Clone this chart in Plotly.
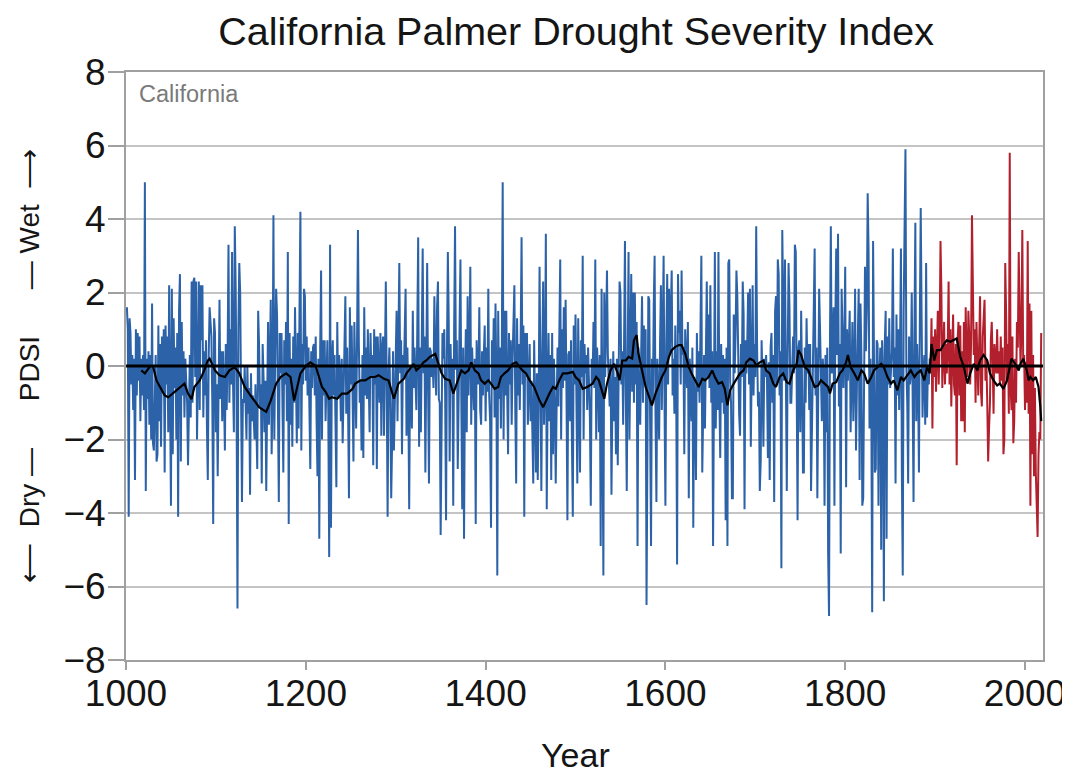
import plotly.graph_objects as go

# ---- Reconstructed PDSI values, one list per stretch of years ----
pdsi_1001 = [1.6, 1.0, -4.1, 1.3, 0.9, -0.5, 0.3, -1.2, 0.2, -3.1,
             1.0, -0.8, 0.9, -0.4, 0.8, -1.5, 0.2, -0.8, 0.3, -1.2,
             5.0, -3.4, 0.2, -0.9, 0.4, -1.6, 0.3, -2.0, 1.7, -2.1,
             -2.3, -0.1, 0.3, -2.6, -2.4, 1.1, -1.5, 0.6, -2.2, 0.8,
             -0.7, 1.0, -2.9, 1.1, -0.5, 0.8, -1.8, 2.2, -1.0, -3.8,
             2.1, -2.4, 1.3, -0.6, 0.5, -2.0, 0.9, -4.1, 1.5, 2.5,
             -2.6, 1.2, -0.8, 0.4, -1.4, 0.2, -0.4, -1.0, -2.7, -0.9,
             0.3, -1.4, 2.3, -1.0, 2.3, 2.4, -0.3, 2.3, -2.0, -0.2,
             2.3, -1.2, 2.2, 0.7, 2.2, -1.4, 0.4, -0.8, 0.7, -1.6,
             -3.1, 0.3, 1.6]
pdsi_1094 = [1.2, 0.8, -1.0, -4.3, 1.3, 0.9, -1.8, -0.5, -3.0, 0.4,
             1.8, -0.9, 0.4, -1.5, 0.4, -0.8, -2.3, 0.6, -1.2, 0.3,
             3.3, -1.0, 1.0, -0.5, 3.1, -0.4, -1.8, 3.8, 2.2, -1.0,
             -6.6, 1.0, 2.8, 2.0, -1.5, -3.7, -0.9, -1.0, 0.0, -1.2,
             -2.0, 0.0, -1.3, -0.6, -3.5, -0.2, -1.5, -0.8, -1.5, -2.0,
             -0.5, -2.2, -2.8, 1.5, 0.6, -1.1, -0.5, -3.2, 0.6, -0.3,
             -1.8, -0.4, -3.4, -1.0, 1.2, -1.6, 0.2, 1.8, -2.4, -0.8,
             4.1, -2.0, 0.5, 2.1, 1.4, -1.2, -3.7, 0.9, -0.2, 0.9,
             -1.0, -2.9, 0.7, -0.5, 1.2, -1.5, 3.1, -4.3, 0.9, -1.6,
             0.2, -2.2, 0.8, -1.0]
pdsi_1188 = [1.6, -1.0, -2.1, 0.9, -1.7, 1.6, 4.2, -2.3, 0.6, -0.5,
             2.1, 1.9, -0.4, 0.8, -0.8, 0.5, -1.2, -2.8, 0.4, -0.6,
             0.5, 0.6, -0.8, 0.8, -1.5, -3.0, 0.2, -4.7, 0.5, 2.6,
             -2.0, 0.7, -0.8, 0.7, -1.5, 0.3, 0.7, -1.2, -5.2, 3.3,
             -4.4, 0.2, 0.7, -0.8, 0.3, -1.5, -3.3, 1.2, -0.9, 0.3,
             -0.2, -1.5, 0.2, -2.1, -0.6, -0.2, 1.9, -1.3, 0.5, -1.1,
             -3.6, 1.6, -0.5, 1.1, -1.1, -2.6, 1.2, -0.8, -1.7, 0.7,
             3.7, 0.6, -1.0, -0.4, -2.3, 0.3, -2.5, 1.6, -0.8, 0.5,
             -0.9, 1.0, -0.2, -1.8, 0.9, -0.3, 0.3, -2.7, 1.0, -0.5,
             0.8, -2.8, 0.8, -0.5]
pdsi_1282 = [-1.0, 0.9, -1.9, 0.5, 0.8, -1.9, 0.3, 2.3, -0.6, -4.1,
             -0.2, 0.5, -1.0, -3.6, -2.1, 0.4, -2.3, -0.8, 0.3, 1.5,
             -1.5, 0.8, 2.8, -0.2, 0.7, -2.4, 0.3, -0.3, 0.6, 2.1,
             -1.9, 0.5, -0.8, -3.9, 0.0, -0.2, -1.7, 1.5, -0.6, 0.5,
             -0.4, -1.2, 1.0, 3.5, -2.2, 0.5, -1.8, 0.6, 3.2, -0.2,
             0.8, -2.9, 0.5, 2.8, -0.5, -3.2, 0.5, 0.4, -0.3, 0.2,
             -0.6, 1.9, 0.2, -0.8, 1.6, 2.3, -0.9, -1.0, -4.6, -2.0,
             0.9, 0.2, 1.0, -0.8, -4.2, 0.4, 3.1, 1.2, -2.6, 0.6,
             -0.5, 0.2, -3.8, 1.0, 3.8, -0.1, 0.7, -2.8, -0.3, 0.8,
             2.9, -1.0, -3.9, 0.5]
pdsi_1376 = [-4.7, -0.5, 1.0, -1.8, 1.9, -0.8, 0.4, 2.7, -1.6, 0.5,
             -0.9, -1.2, 0.2, -4.3, 0.7, -0.4, -0.5, 1.6, -1.2, -1.6,
             0.4, -0.8, 0.3, 1.1, -1.5, 0.5, -0.7, 2.1, -0.8, -1.5,
             -4.4, 0.7, -0.6, 1.3, -1.4, 1.7, -0.5, -5.7, 1.5, -0.9,
             0.5, -1.7, 0.3, 5.0, -2.0, 1.5, -0.8, 1.5, -0.7, -2.4,
             0.9, -0.5, 0.7, -1.6, 0.2, 1.0, 2.2, -1.2, -3.2, 1.3,
             -0.8, 0.6, -1.2, 0.8, 3.5, -0.5, 1.1, -4.1, 0.9, -0.3,
             0.9, -1.6, -0.8, 0.6, -1.5, -0.4, -1.8, -3.2, 0.7, -0.6,
             -2.9, -0.2, -3.1, -1.0, 2.7, -0.2, -3.4, 0.2, 2.3, -1.6,
             -0.4, 3.6, -3.9, -0.8]
pdsi_1470 = [0.9, -1.5, 0.3, -3.1, 0.9, -2.4, 0.2, -1.0, -3.2, -1.1,
             0.5, -1.1, 0.4, 2.9, -2.0, 1.0, -0.6, 1.6, -0.4, 1.8,
             -0.9, -4.2, 0.3, 0.4, -1.5, 0.7, -2.0, -4.1, 1.1, -0.5,
             1.4, -1.2, -3.2, 1.3, -0.7, -2.9, 0.7, -0.3, 3.0, -2.0,
             0.6, -0.2, 0.3, -1.2, 0.5, -0.8, -1.4, -3.8, 0.2, -0.5,
             1.2, -0.6, 2.9, -2.0, 0.5, -0.2, -1.8, 0.3, -4.9, 2.1,
             -1.5, -5.7, 2.0, -0.3, 1.0, 2.6, 0.3, -0.9, -1.1, 0.2,
             -3.5, -1.0, 0.4, -1.5, -0.3, -2.4, 0.2, -2.7, 0.5, 2.3,
             2.0, -0.5, 0.4, -1.6, 0.6, 3.4, -0.8, -3.4, 0.1, 3.1,
             -2.0, 0.2, 2.5, -0.7]
pdsi_1564 = [2.0, -1.0, 2.0, -0.5, 1.2, -4.9, 0.5, -0.8, -1.6, 0.3,
             1.9, -1.0, 1.1, -0.4, 1.0, -6.5, 0.3, 1.9, 1.8, -1.0,
             -4.9, 0.2, -1.0, 1.6, 3.0, -1.4, -3.7, 0.2, -0.9, -2.0,
             0.6, 2.2, -1.2, 0.5, 3.0, -1.0, -3.8, 0.6, 2.5, -0.5,
             2.1, 0.3, 1.8, 2.6, -0.8, 0.2, -1.3, 1.1, -0.6, -5.4,
             2.5, 0.9, 1.5, -0.5, 2.6, 0.3, 0.5, -2.4, 1.0, 0.1,
             -0.6, 1.2, -3.6, 0.2, -0.3, -1.5, 0.5, -4.4, -0.3, -1.1,
             -3.1, 0.9, -0.7, 0.4, -1.0, 1.0, 3.0, -2.9, -0.4, 0.3,
             -1.7, 0.5, 2.3, -0.3, 1.4, -0.6, 2.2, -1.0, 0.4, -4.9,
             0.5, 3.1, -1.7, 0.4]
pdsi_1658 = [-1.2, 3.1, -0.8, -2.5, 0.6, -1.0, 0.3, -1.3, 0.2, -4.2,
             0.5, -4.9, 2.8, 2.9, -0.4, -1.0, -3.6, -3.6, 1.4, -0.2,
             0.8, 2.6, 1.9, -0.5, -1.3, -1.9, 0.6, -0.3, 2.3, 1.4,
             -3.9, 0.7, -0.2, 0.6, 2.0, -0.5, 2.1, -2.2, 0.5, 2.2,
             -0.8, 0.6, -0.3, 3.8, 0.5, -1.1, -0.7, -3.4, -2.6, 0.7,
             -0.5, -2.2, 0.2, -0.3, 0.3, -0.4, -2.5, 0.1, -3.1, 0.5,
             0.9, -1.0, 0.3, -3.7, 1.5, 1.9, -0.5, 2.9, 2.5, -0.8,
             0.4, -5.5, 3.7, 2.1, -0.4, 2.9, 0.5, -3.4, 0.3, 2.8,
             1.6, -1.0, -1.0, -0.2, 0.8, -0.2, 3.3, 3.1, -0.8, -4.2,
             0.5, 0.7, -1.8, 1.5]
pdsi_1752 = [-0.4, -2.9, -2.9, 0.5, -1.0, 1.3, -0.2, 0.6, -1.2, 0.6,
             -3.4, -1.5, 0.3, 1.0, 3.2, -0.8, 0.5, -3.6, 0.8, 2.1,
             1.0, -0.5, -1.5, 0.2, -0.2, -3.8, 0.3, -1.8, 0.5, -5.1,
             -6.8, 0.5, 3.8, -0.2, 0.4, 1.6, -3.8, 1.2, 3.2, 0.3,
             3.6, -1.1, 0.6, -5.1, 2.1, 0.9, -0.6, 0.8, 2.7, -3.3,
             1.0, -0.4, 0.7, 1.5, -1.8, 0.5, 1.2, -1.5, -0.3, 2.1,
             -2.3, -0.6, 0.9, 2.1, -3.1, 1.7, 0.3, -3.8, -3.6, 0.6,
             2.7, 0.4, 1.5, 4.7, 3.1, -1.7, 0.2, -1.0, -6.7, 3.4,
             -0.8, -2.9, -2.8, 0.7, 0.6, -3.8, -0.3, 0.5, -5.0, 0.7,
             -0.2, -6.4, 0.6, 1.5]
pdsi_1846 = [-4.7, 0.8, -0.5, 1.3, -0.6, -0.2, 0.4, 3.2, -0.3, 0.5,
             -3.2, 1.4, -0.8, 1.0, -1.2, 0.5, 3.2, -2.9, -5.7, 1.5,
             3.4, 5.9, 0.0, -1.0, -3.2, 0.8, -0.5, -0.2, 2.0, -0.8,
             -3.7, 1.0, 3.9, -1.5, 0.6, -0.4, -2.9, 1.2, 4.3, 1.3,
             -1.4, -0.2, 0.3, -1.6, 2.8, -1.4, 0.0, -0.5, 0.2, -0.1]

# Instrumental-era values (red), starting 1895
pdsi_1895 = [-0.1, 1.3, -1.7, 0.8, -0.3, 1.0, -0.7, 0.5, 1.5, -0.5,
             0.8, 3.4, 2.0, -0.6, 0.4, 1.2, -0.5, 0.6, -0.2, 0.5,
             2.3, -0.5, 1.0, -1.1, 0.3, 1.4, -0.5, -0.8, 0.6, -2.7,
             0.7, 1.2, -0.8, 1.1, -1.5, 0.4, -1.5, 1.2, -1.8, 1.6,
             0.2, -0.3, 1.5, 0.8, -0.5, 0.6, 4.1, 1.1, 0.3, 1.0,
             -1.0, 1.2, -0.2, -0.8, 0.6, 1.9, -0.7, -1.1, 0.8, 1.3,
             1.8, -0.4, 0.2, -1.0, -2.6, -1.7, -1.0, 0.7, 1.2, 0.1,
             -1.3, 0.6, 0.3, -0.2, 1.0, -0.2, 0.4, -0.5, 0.8, -0.4,
             0.5, -2.4, -2.0, 2.8, 1.4, -0.4, 0.6, -1.3, 5.8, -0.6,
             -1.2, 0.8, -2.1, -1.5, 0.2, -1.0, 1.2, 0.5, 3.1, 1.3,
             0.0, 1.0, 3.7, 0.0, 0.3, -1.2, 0.1, -1.0, 3.4, -1.3,
             1.7, -3.8, 1.5, -2.4, 0.3, -3.0, -0.6, -2.9, -3.6, -4.65,
             -2.4, -1.8, -2.0, 0.9]

blue_segments = [(1001, pdsi_1001), (1094, pdsi_1094), (1188, pdsi_1188),
                 (1282, pdsi_1282), (1376, pdsi_1376), (1470, pdsi_1470),
                 (1564, pdsi_1564), (1658, pdsi_1658), (1752, pdsi_1752),
                 (1846, pdsi_1846)]
red_start = 1895

# Smoothed curve (black)
smooth_years = [1017, 1021, 1027, 1030, 1034, 1038, 1043, 1047, 1052, 1060, 1065, 1069, 1073, 1076, 1082, 1087, 1091,
                1093, 1099, 1104, 1110, 1115, 1121, 1126, 1132, 1137, 1143, 1148, 1156, 1161, 1167, 1172, 1178, 1183,
                1187, 1191, 1194, 1200, 1205, 1211, 1215, 1218, 1222, 1226, 1229, 1235, 1240, 1246, 1252, 1255, 1261, 1266, 1272, 1277,
                1281, 1287, 1292, 1298, 1303, 1309, 1312, 1316, 1320, 1323, 1327, 1331, 1334, 1338, 1344, 1347, 1351, 1355, 1360, 1364, 1369,
                1373, 1377, 1381, 1384, 1388, 1392, 1395, 1399, 1403, 1406, 1410, 1414, 1417, 1421, 1425, 1430, 1434, 1438, 1441, 1445, 1449, 1454, 1460, 1464, 1467,
                1471, 1475, 1478, 1482, 1486, 1491, 1497, 1500, 1504, 1508, 1513, 1519, 1523, 1526, 1532, 1535, 1539, 1543, 1547, 1549, 1552, 1556, 1559, 1563,
                1565, 1568, 1570, 1574, 1578, 1582, 1585, 1589, 1593, 1596, 1600, 1604, 1607, 1611, 1615, 1618, 1622, 1626, 1629, 1633, 1637, 1641, 1644, 1648, 1652, 1655,
                1659, 1663, 1666, 1669, 1672, 1676, 1679, 1683, 1687, 1690, 1694, 1698, 1701, 1705, 1709, 1712, 1716, 1720, 1723, 1727, 1731, 1735, 1738, 1742, 1746, 1748, 1751,
                1755, 1759, 1762, 1766, 1770, 1773, 1777, 1781, 1783, 1786, 1790, 1794, 1797, 1801, 1803, 1806, 1810, 1814, 1818, 1821, 1825, 1829, 1832, 1836, 1840, 1843,
                1847, 1851, 1854, 1858, 1862, 1865, 1869, 1873, 1877, 1880, 1884, 1888, 1891, 1894, 1896, 1899, 1902, 1906, 1910, 1913,
                1917, 1921, 1924, 1928, 1932, 1936, 1939, 1943, 1947, 1950, 1954, 1958, 1961, 1965, 1969, 1972, 1976, 1980, 1983, 1985,
                1989, 1993, 1995, 1998, 2002, 2004, 2006, 2009, 2012, 2015, 2017, 2018]
smooth_values = [-0.12, -0.2, 0.0, 0.0, -0.4, -0.57, -0.8, -0.85, -0.75, -0.57, -0.48, -0.75, -0.9, -0.57, -0.39, -0.12, 0.15,
                 0.2, -0.12, -0.25, -0.3, -0.12, -0.03, -0.2, -0.57, -0.75, -0.94, -1.12, -1.25, -0.94, -0.48, -0.3, -0.2, -0.3,
                 -0.94, -0.48, -0.2, 0.0, 0.1, 0.0, -0.3, -0.57, -0.7, -0.89, -0.85, -0.89, -0.75, -0.75, -0.62, -0.48, -0.39, -0.39, -0.3, -0.3,
                 -0.25, -0.35, -0.39, -0.89, -0.48, -0.35, -0.2, -0.07, 0.06, -0.12, -0.03, 0.1, 0.15, 0.25, 0.33, 0.1, -0.2, -0.35, -0.39, -0.75, -0.39,
                 -0.12, -0.2, -0.12, 0.1, -0.12, -0.2, -0.39, -0.48, -0.39, -0.48, -0.62, -0.57, -0.3, -0.2, -0.12, 0.06, 0.1, -0.03, -0.12, -0.2, -0.39, -0.57, -0.94, -1.12, -0.94,
                 -0.75, -0.57, -0.62, -0.39, -0.2, -0.2, -0.16, -0.3, -0.39, -0.62, -0.57, -0.48, -0.3, -0.39, -0.89, -0.48, -0.12, 0.06, -0.2, -0.39, 0.15, 0.15, 0.25, 0.2,
                 0.7, 0.84, 0.34, -0.12, -0.57, -0.85, -1.07, -0.75, -0.48, -0.3, -0.12, 0.25, 0.43, 0.52, 0.57, 0.57, 0.34, -0.03, -0.2, -0.39, -0.57, -0.35, -0.39, -0.3, -0.12, -0.3,
                 -0.48, -0.44, -0.62, -1.07, -0.66, -0.48, -0.35, -0.2, -0.12, 0.1, 0.2, 0.15, 0.02, 0.1, 0.15, -0.12, -0.2, -0.48, -0.57, -0.3, -0.2, -0.44, -0.48, -0.12, 0.06, 0.43, 0.3,
                 -0.03, -0.12, -0.3, -0.57, -0.53, -0.39, -0.48, -0.57, -0.75, -0.48, -0.44, -0.2, -0.12, 0.1, 0.3, -0.03, -0.2, -0.39, -0.12, -0.2, -0.48, -0.3, -0.12, -0.03, 0.06, -0.03,
                 -0.3, -0.48, -0.39, -0.66, -0.3, -0.39, -0.25, -0.12, -0.3, -0.2, -0.12, -0.39, -0.03, -0.2, 0.6, 0.15, 0.43, 0.43, 0.6, 0.7,
                 0.66, 0.7, 0.75, 0.25, -0.03, -0.48, -0.2, 0.06, -0.12, 0.15, 0.3, 0.15, -0.2, -0.39, -0.53, -0.48, -0.62, -0.39, -0.03, 0.2,
                 0.06, -0.12, 0.06, 0.2, -0.12, -0.39, -0.3, -0.39, -0.3, -0.57, -1.1, -1.5]

x_ticks = [1000, 1200, 1400, 1600, 1800, 2000]
y_ticks = [-8, -6, -4, -2, 0, 2, 4, 6, 8]

# ---- Build series ----
blue_x, blue_y = [], []
for start, vals in blue_segments:
    blue_x.extend(range(start, start + len(vals)))
    blue_y.extend(vals)
red_x = list(range(red_start, red_start + len(pdsi_1895)))
red_y = pdsi_1895

FONT = "Liberation Sans, Arial, Helvetica, sans-serif"
BLUE = "#2c62a8"
RED = "#b3202d"
TXT = "#151515"

fig = go.Figure()
fig.add_trace(go.Scatter(x=blue_x, y=blue_y, mode="lines",
                         line=dict(color=BLUE, width=2), hoverinfo="x+y", showlegend=False))
fig.add_trace(go.Scatter(x=red_x, y=red_y, mode="lines",
                         line=dict(color=RED, width=2), hoverinfo="x+y", showlegend=False))
fig.add_trace(go.Scatter(x=smooth_years, y=smooth_values, mode="lines",
                         line=dict(color="black", width=2.2), hoverinfo="x+y", showlegend=False))

fig.add_hline(y=0, line=dict(color="black", width=3), layer="above")

# page body adds an 8px offset; margins compensate so the plot frame lands where the reference's does
fig.update_layout(
    width=1070, height=774,
    margin=dict(l=118, r=30, t=64, b=122),
    paper_bgcolor="white", plot_bgcolor="white",
    font=dict(family=FONT, color=TXT),
    title=dict(text="California Palmer Drought Severity Index", x=0.531, xanchor="center",
               y=0.97, yanchor="middle", font=dict(size=39.5, color=TXT)),
    xaxis=dict(range=[1000, 2020], tickvals=x_ticks, ticktext=[str(v) for v in x_ticks],
               showgrid=False, zeroline=False,
               showline=True, linecolor="#a0a0a0", linewidth=2, mirror=True,
               ticks="outside", ticklen=8, tickcolor="#a0a0a0", tickwidth=2,
               ticklabelstandoff=-8,
               tickfont=dict(size=37, color=TXT)),
    yaxis=dict(range=[-8, 8], tickvals=y_ticks,
               showgrid=True, gridcolor="#c4c4c4", gridwidth=1.6, zeroline=False,
               showline=True, linecolor="#a0a0a0", linewidth=2, mirror=True,
               ticks="outside", ticklen=16, tickcolor="#a0a0a0", tickwidth=2,
               ticklabelstandoff=-5,
               tickfont=dict(size=37, color=TXT)),
)

NB = "\u00a0"
ytitle = (f"\u27f5{NB*2}Dry{NB}\u2014{NB*6}PDSI{NB*6}\u2014{NB}Wet{NB*2}\u27f6")
fig.add_annotation(text=ytitle, xref="paper", yref="paper", x=-0.106, y=0.5,
                   xanchor="center", yanchor="middle", textangle=-90, showarrow=False,
                   font=dict(size=28, color=TXT, family=FONT))
fig.add_annotation(text="California", xref="paper", yref="paper", x=0.0119, y=0.988,
                   xanchor="left", yanchor="top", showarrow=False,
                   font=dict(size=23.5, color="#7a7a7a", family=FONT))
fig.add_annotation(text="Year", xref="paper", yref="paper", x=0.49, y=-0.1616,
                   xanchor="center", yanchor="middle", showarrow=False,
                   font=dict(size=34, color=TXT, family=FONT))

fig.write_html("out.html")
